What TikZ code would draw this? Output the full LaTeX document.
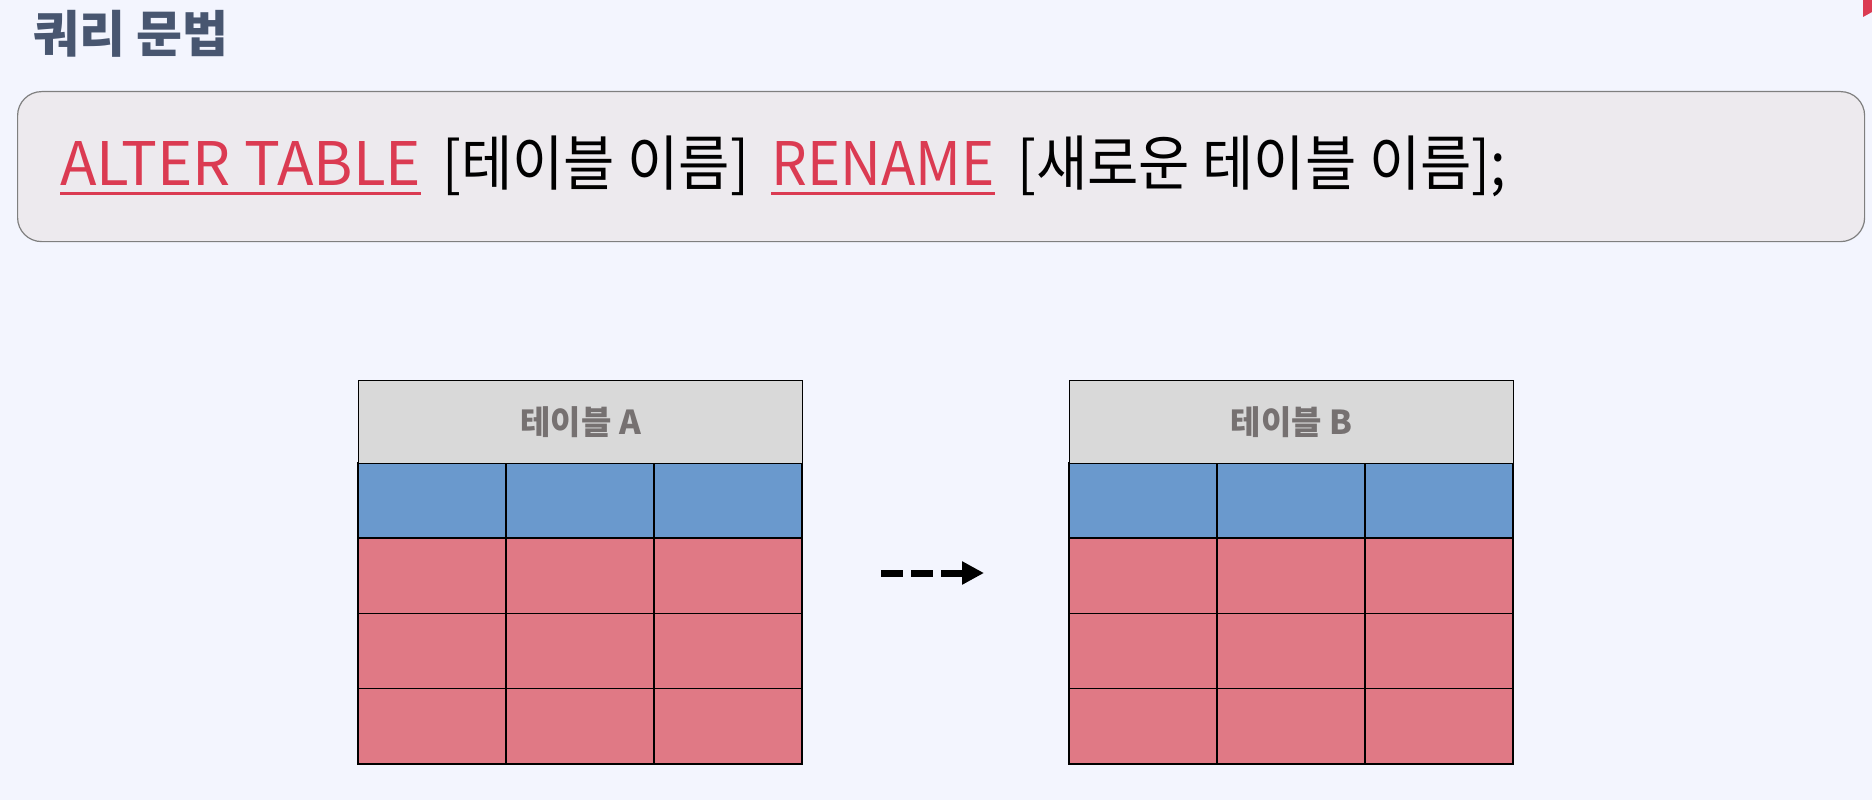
\documentclass[tikz,border=0pt]{standalone}
\usepackage{fontspec}
\usepackage{xcolor}
\usepackage{tikz}
\usetikzlibrary{arrows.meta}
\newfontfamily\krfont{Noto Sans CJK KR}
\definecolor{pagebg}{HTML}{F3F5FE}
\definecolor{titleslate}{HTML}{485670}
\definecolor{boxfill}{HTML}{EDEAEE}
\definecolor{boxline}{HTML}{7F7F7F}
\definecolor{kwred}{HTML}{DB3B52}
\definecolor{headgray}{HTML}{D9D9D9}
\definecolor{headtext}{HTML}{767171}
\definecolor{colblue}{HTML}{6A99CD}
\definecolor{rowred}{HTML}{E07985}
\tikzstyle{pagetitle} = [text=titleslate, font=\krfont\bfseries\fontsize{50}{60}\selectfont,
inner sep=0pt, anchor=base west]
\tikzstyle{syntaxbox} = [draw=boxline, fill=boxfill, line width=1.2pt,
rounded corners=24pt, anchor=north west]
\tikzstyle{keyword} = [text=kwred, font=\krfont\fontsize{60}{72}\selectfont,
inner sep=0pt, anchor=base west]
\tikzstyle{argtext} = [text=black, font=\krfont\fontsize{60}{72}\selectfont,
inner sep=0pt, anchor=base west, xscale=0.93, transform shape]
\tikzstyle{kwline} = [draw=kwred, line width=3pt]
\tikzstyle{headcell} = [draw=black, fill=headgray, line width=1.3pt, inner sep=0pt,
minimum width=444pt, minimum height=83pt, anchor=north west, text=headtext,
font=\krfont\bfseries\fontsize{33}{40}\selectfont]
\tikzstyle{cell} = [draw=black, line width=1.3pt]
\tikzstyle{renamearrow} = [draw=black, line width=7pt, dash pattern=on 22pt off 8pt,
-{Triangle[length=22pt, width=22pt]}]
% #1 node name, #2 left edge, #3 title
\newcommand{\sqltable}[3]{%
  \foreach \c in {0,1,2} {
    \draw[cell, fill=colblue] (#2+\c*148,463) rectangle ++(148,75);
    \foreach \r in {0,1,2}
      \draw[cell, fill=rowred] (#2+\c*148,538+\r*75.33) rectangle ++(148,75.33);
  }
  \node[headcell] (#1) at (#2,380) {#3};
}

\begin{document}
\begin{tikzpicture}[x=1pt, y=-1pt]
    \fill[pagebg] (0,0) rectangle (1872,800);
    \useasboundingbox (0,0) rectangle (1872,800);
    \fill[kwred] (1863,0) -- (1872,0) -- (1872,12) -- (1863,17) -- cycle;

    \node[pagetitle] (title) at (33,53) {쿼리 문법};

    \node[syntaxbox, minimum width=1847pt, minimum height=150pt] (box) at (17,91) {};
    \node[keyword] (kwAlter) at (60,185) {ALTER TABLE};
    \node[argtext] (argOld) at (442,185) {[테이블 이름]};
    \node[keyword, xscale=0.94, transform shape] (kwRename) at (771,185) {RENAME};
    \node[argtext] (argNew) at (1017,185) {[새로운 테이블 이름];};
    \draw[kwline] ([yshift=-8pt]kwAlter.base west) -- ([yshift=-8pt]kwAlter.base east);
    \draw[kwline] ([yshift=-8pt]kwRename.base west) -- ([yshift=-8pt]kwRename.base east);

    \sqltable{tableA}{358}{테이블 A}
    \sqltable{tableB}{1069}{테이블 B}

    \coordinate (arrowStart) at (881,573);
    \coordinate (arrowEnd) at (984,573);
    \draw[renamearrow] (arrowStart) -- (arrowEnd);
\end{tikzpicture}
\end{document}
